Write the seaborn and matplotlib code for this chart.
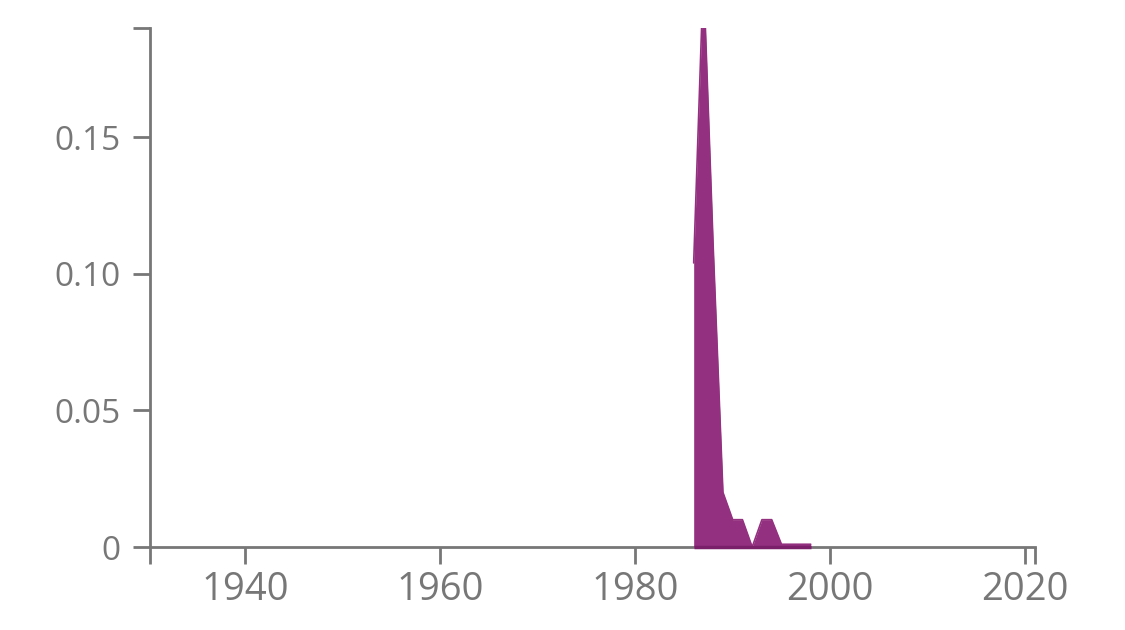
import numpy as np
import pandas as pd
import seaborn as sns
import matplotlib.pyplot as plt

# values
years = [1986, 1987, 1988, 1989, 1990, 1991, 1992, 1993, 1994, 1995, 1996, 1997, 1998]
share = [0.104, 0.21, 0.11, 0.02, 0.01, 0.01, 0.0, 0.01, 0.01, 0.001, 0.001, 0.001, 0.001]

x_ticks = [1940, 1960, 1980, 2000, 2020]
y_ticks = [0, 0.05, 0.10, 0.15]
y_tick_labels = ["0", "0.05", "0.10", "0.15"]

x_range = (1930.25, 2021)
y_range = (0, 0.19)

fill_color = "#943080"
base_color = "#7a1f6a"
axis_color = "#777777"

df = pd.DataFrame({"year": years, "share": share})

sns.set_theme(style="ticks")
plt.rcParams["font.family"] = ["Open Sans", "DejaVu Sans"]

fig = plt.figure(figsize=(11.25, 6.3), dpi=100)
ax = fig.add_axes([150 / 1125, 1 - 547 / 630, (1035 - 150) / 1125, (547 - 28) / 630])

# area
ax.fill_between(df["year"], 0, df["share"], color=fill_color, linewidth=0, zorder=3)
sns.lineplot(data=df, x="year", y="share", color=fill_color, linewidth=1.2, ax=ax, zorder=3)
# darker baseline under the area
ax.plot([years[0], years[-1]], [0, 0], color=base_color, linewidth=2.5, zorder=4,
        solid_capstyle="butt", clip_on=False)

ax.set_xlim(*x_range)
ax.set_ylim(*y_range)

ax.set_xticks(x_ticks)
ax.set_yticks(y_ticks)
ax.set_yticklabels(y_tick_labels)
# outer ticks at the ends of each axis line
ax.set_xticks(list(x_range), minor=True)
ax.set_yticks(list(y_range), minor=True)

for side in ["top", "right"]:
    ax.spines[side].set_visible(False)
for side in ["left", "bottom"]:
    ax.spines[side].set_color(axis_color)
    ax.spines[side].set_linewidth(2)

ax.tick_params(which="both", length=12, width=2, color=axis_color)
ax.tick_params(axis="x", which="major", labelsize=27.5, labelcolor=axis_color, pad=5)
ax.tick_params(axis="y", which="major", labelsize=24, labelcolor=axis_color, pad=9)

ax.set_xlabel("")
ax.set_ylabel("")
ax.grid(False)

fig.savefig("out.png", dpi=100)
